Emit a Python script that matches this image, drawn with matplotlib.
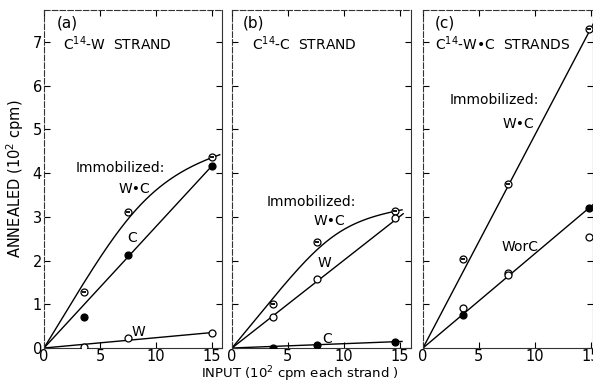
import numpy as np
import matplotlib
matplotlib.use("Agg")
import matplotlib.pyplot as plt

# ---------------- data ----------------
# Panel (a): C14-W strand
a_x = [3.6, 7.5, 15.0]
a_wc_y = [1.28, 3.11, 4.37]      # immobilized W+C (barred circles)
a_c_y = [0.71, 2.13, 4.17]       # immobilized C (filled)
a_w_y = [0.03, 0.23, 0.34]       # immobilized W (open)
# hand-drawn W+C curve: Bezier control points
a_wc_ctrl_x = [0, 6.5, 8.7, 15.7]
a_wc_ctrl_y = [0, 2.73, 3.79, 4.42]
a_c_line_x = [0, 15.2]
a_c_line_y = [0, 4.22]
a_w_line_x = [0, 15.3]
a_w_line_y = [0, 0.36]

# Panel (b): C14-C strand
b_x = [3.7, 7.6, 14.6]
b_wc_y = [1.00, 2.43, 3.14]
b_w_y = [0.71, 1.58, 2.97]
b_c_y = [0.00, 0.07, 0.14]
b_wc_ctrl_x = [0, 7.5, 8.7, 15.2]
b_wc_ctrl_y = [0, 2.33, 2.84, 3.16]
b_w_line_x = [0, 15.3]
b_w_line_y = [0, 3.07]
b_c_line_x = [0, 15.2]
b_c_line_y = [0, 0.15]

# Panel (c): C14-W+C strands
c_wc_x = [3.6, 7.6, 14.8]
c_wc_y = [2.04, 3.75, 7.30]
c_open_x = [3.6, 7.6, 7.6, 14.8]
c_open_y = [0.92, 1.72, 1.66, 2.54]
c_filled_x = [3.6, 14.8]
c_filled_y = [0.76, 3.20]
c_wc_line_x = [0, 15.3]
c_wc_line_y = [0, 7.45]
c_woc_line_x = [0, 15.3]
c_woc_line_y = [0, 3.30]

x_ticks = [0, 5, 10, 15]
y_ticks = [0, 1, 2, 3, 4, 5, 6, 7]

panel_tags = ["(a)", "(b)", "(c)"]
panel_titles = ["C$^{14}$-W  STRAND", "C$^{14}$-C  STRAND", "C$^{14}$-W\u2022C  STRANDS"]

# ---------------- figure ----------------
plt.rcParams['font.family'] = ['DejaVu Sans']
plt.rcParams['mathtext.fontset'] = 'dejavusans'

W, H = 593, 384
fig = plt.figure(figsize=(W / 100, H / 100), dpi=100)

def frac(px_l, px_r, py_t, py_b):
    return [px_l / W, 1 - py_b / H, (px_r - px_l) / W, (py_b - py_t) / H]

ax_a = fig.add_axes(frac(44, 222, 10, 348))
ax_b = fig.add_axes(frac(232, 411, 10, 348))
ax_c = fig.add_axes(frac(423, 593, 10, 348))
axes = [ax_a, ax_b, ax_c]
xmax = [15.9, 16.0, 15.2]

for i, ax in enumerate(axes):
    ax.set_xlim(0, xmax[i])
    ax.set_ylim(0, 7.73)
    ax.set_xticks(x_ticks)
    ax.set_yticks(y_ticks)
    ax.tick_params(direction='in', length=4, width=0.8, top=True, right=True,
                   labelsize=10.5, pad=1.5, colors='black')
    ax.tick_params(axis='x', pad=0.5)
    if i > 0:
        ax.tick_params(labelleft=False)
    for side, sp in ax.spines.items():
        sp.set_linewidth(0.8)
        sp.set_color('#333333')
        if side in ('top', 'left'):
            sp.set_linestyle((0, (5, 2)))

txt = dict(fontsize=10, color='black')
line_kw = dict(color='black', lw=1.0, zorder=2)
open_kw = dict(ls='none', marker='o', ms=5, mfc='white', mec='black', mew=0.9, zorder=3)
fill_kw = dict(ls='none', marker='o', ms=5, mfc='black', mec='black', mew=0.9, zorder=3)

def barred(ax, x, y):
    ax.plot(x, y, **open_kw)
    ax.plot(x, y, ls='none', marker='_', ms=3.5, mew=1.3, color='black', zorder=4)

def bezier(ax, cx, cy):
    """Cubic Bezier through the control points of the hand-drawn curve."""
    t = np.linspace(0, 1, 200)
    b = [(1 - t)**3, 3 * (1 - t)**2 * t, 3 * (1 - t) * t**2, t**3]
    xs = sum(bk * ck for bk, ck in zip(b, cx))
    ys = sum(bk * ck for bk, ck in zip(b, cy))
    ax.plot(xs, ys, **line_kw)

# Panel (a)
bezier(ax_a, a_wc_ctrl_x, a_wc_ctrl_y)
ax_a.plot(a_c_line_x, a_c_line_y, **line_kw)
ax_a.plot(a_w_line_x, a_w_line_y, **line_kw)
barred(ax_a, a_x, a_wc_y)
ax_a.plot(a_x, a_c_y, **fill_kw)
ax_a.plot(a_x, a_w_y, **open_kw)
ax_a.text(6.8, 4.12, "Immobilized:", ha='center', va='center', **txt)
ax_a.text(8.1, 3.64, "W\u2022C", ha='center', va='center', **txt)
ax_a.text(7.9, 2.52, "C", ha='center', va='center', **txt)
ax_a.text(8.4, 0.37, "W", ha='center', va='center', **txt)

# Panel (b)
bezier(ax_b, b_wc_ctrl_x, b_wc_ctrl_y)
ax_b.plot(b_w_line_x, b_w_line_y, **line_kw)
ax_b.plot(b_c_line_x, b_c_line_y, **line_kw)
barred(ax_b, b_x, b_wc_y)
ax_b.plot(b_x, b_w_y, **open_kw)
ax_b.plot(b_x, b_c_y, **fill_kw)
ax_b.text(7.05, 3.34, "Immobilized:", ha='center', va='center', **txt)
ax_b.text(8.75, 2.90, "W\u2022C", ha='center', va='center', **txt)
ax_b.text(8.3, 1.95, "W", ha='center', va='center', **txt)
ax_b.text(8.5, 0.20, "C", ha='center', va='center', **txt)

# Panel (c)
ax_c.plot(c_wc_line_x, c_wc_line_y, **line_kw)
ax_c.plot(c_woc_line_x, c_woc_line_y, **line_kw)
barred(ax_c, c_wc_x, c_wc_y)
ax_c.plot(c_open_x, c_open_y, **open_kw)
ax_c.plot(c_filled_x, c_filled_y, **fill_kw)
ax_c.text(6.4, 5.67, "Immobilized:", ha='center', va='center', **txt)
ax_c.text(8.5, 5.13, "W\u2022C", ha='center', va='center', **txt)
ax_c.text(8.7, 2.31, "WorC", ha='center', va='center', **txt)

# Panel tags and titles
tag_x = [1.16, 0.98, 1.07]
title_x = [1.7, 1.8, 1.07]
for i, ax in enumerate(axes):
    ax.text(tag_x[i], 7.44, panel_tags[i], ha='left', va='center', fontsize=11)
    ax.text(title_x[i], 6.96, panel_titles[i], ha='left', va='center', fontsize=10)

fig.text(15 / W, 1 - 179 / H, "ANNEALED (10$^2$ cpm)", rotation=90,
         ha='center', va='center', fontsize=10.5)
fig.text(300 / W, 0.5 / H, "INPUT (10$^2$ cpm each strand )",
         ha='center', va='bottom', fontsize=9.5)

fig.savefig("out.png", dpi=100)
